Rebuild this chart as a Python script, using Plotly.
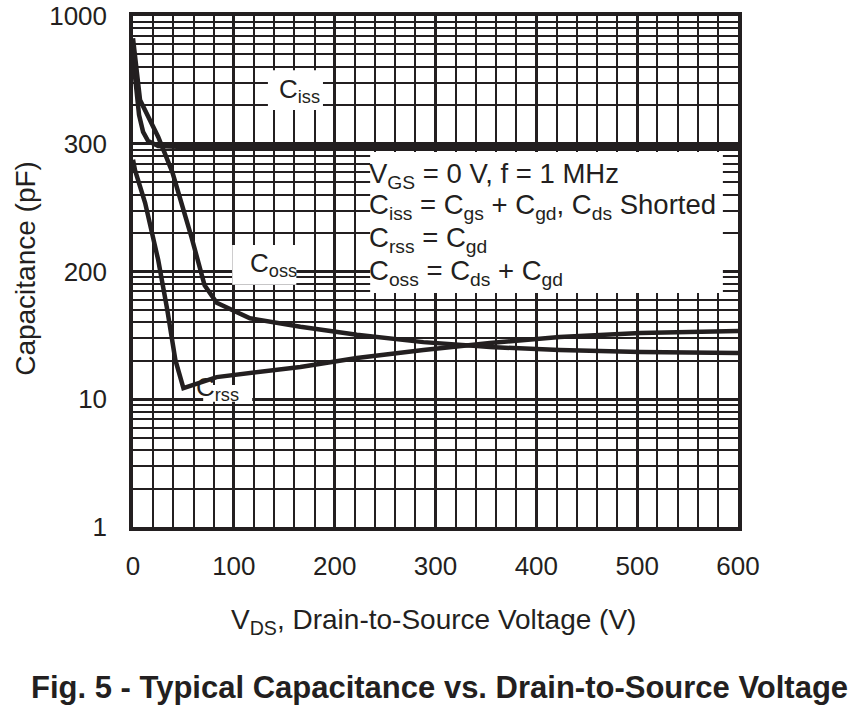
"""Typical capacitance vs. drain-to-source voltage (datasheet Fig. 5)."""

import plotly.graph_objects as go

# values (V in volts, C in pF)
ciss_v = [0, 3, 6, 10, 15, 25, 50, 100, 200, 300, 400, 500, 600]
ciss_c = [4800, 2640, 1680, 1240, 1050, 960, 945, 945, 945, 945, 945, 945, 945]

coss_v = [0, 7, 25, 39, 58, 71, 83, 116, 166, 222, 288, 354, 423, 503, 600]
coss_c = [6700, 2200, 1130, 600, 186, 78, 57, 43, 37, 32, 28, 25.6, 24.3, 23.4, 23.0]

crss_v = [0, 2, 12, 25, 34, 42, 50, 83, 166, 222, 288, 354, 423, 503, 600]
crss_c = [750, 620, 345, 123, 50, 20.3, 12.2, 14.9, 17.9, 21.0, 24.3, 27.6, 30.7, 33.0, 34.2]

y_tickvals = [1, 10, 100, 1000, 10000]
y_ticktext = ["1", "10", "200", "300", "1000"]
x_tickvals = [0, 100, 200, 300, 400, 500, 600]

conditions = [
    "V<sub>GS</sub> = 0 V, f = 1 MHz",
    "C<sub>iss</sub> = C<sub>gs</sub> + C<sub>gd</sub>, C<sub>ds</sub> Shorted",
    "C<sub>rss</sub> = C<sub>gd</sub>",
    "C<sub>oss</sub> = C<sub>ds</sub> + C<sub>gd</sub>",
]

INK = "#231f20"
FONT = "Liberation Sans, Arial, Helvetica, sans-serif"

fig = go.Figure()
for v, c in [(ciss_v, ciss_c), (coss_v, coss_c), (crss_v, crss_c)]:
    fig.add_trace(go.Scatter(x=v, y=c, mode="lines", line=dict(color=INK, width=4.5),
                             showlegend=False, hoverinfo="skip"))

minor_y = [m * 10 ** e for e in range(4) for m in range(2, 10)]

fig.update_xaxes(
    range=[0, 600], tickvals=x_tickvals, showgrid=True, gridcolor=INK, gridwidth=2.5,
    minor=dict(dtick=20, showgrid=True, gridcolor=INK, gridwidth=1.8),
    showline=True, linecolor=INK, linewidth=3.5, mirror=True, zeroline=False,
    ticks="outside", ticklen=13, tickcolor="rgba(0,0,0,0)", automargin=False,
    ticklabeloverflow="allow", tickfont=dict(family=FONT, size=26, color=INK),
)
fig.update_yaxes(
    type="log", range=[0, 4], tickvals=y_tickvals, ticktext=y_ticktext,
    showgrid=True, gridcolor=INK, gridwidth=3,
    minor=dict(tickvals=minor_y, showgrid=True, gridcolor=INK, gridwidth=1.8),
    showline=True, linecolor=INK, linewidth=3.5, mirror=True, zeroline=False,
    ticks="outside", ticklen=17, tickcolor="rgba(0,0,0,0)", automargin=False,
    ticklabeloverflow="allow", tickfont=dict(family=FONT, size=26, color=INK),
)

# white boxes that mask the grid behind the labels (paper coords)
boxes = [
    (0.392, 0.975, 0.458, 0.734),  # conditions block
    (0.223, 0.314, 0.816, 0.894),  # Ciss
    (0.164, 0.270, 0.474, 0.552),  # Coss
    (0.116, 0.197, 0.245, 0.278),  # Crss (kept under its curve)
]
for x0, x1, y0, y1 in boxes:
    fig.add_shape(type="rect", xref="paper", yref="paper", x0=x0, x1=x1, y0=y0, y1=y1,
                  fillcolor="white", line=dict(width=0), layer="above")

notes = [
    ("C<sub>iss</sub>", 0.276, 0.855),
    ("C<sub>oss</sub>", 0.233, 0.513),
    ("C<sub>rss</sub>", 0.140, 0.272),
]
for text, x, y in notes:
    fig.add_annotation(text=text, xref="paper", yref="paper", x=x, y=y, showarrow=False,
                       xanchor="center", yanchor="middle",
                       font=dict(family=FONT, size=26, color=INK))

cond_y = [0.688, 0.628, 0.563, 0.499]
for line, y in zip(conditions, cond_y):
    fig.add_annotation(text=line, xref="paper", yref="paper", x=0.386, y=y,
                       xanchor="left", yanchor="middle", showarrow=False,
                       font=dict(family=FONT, size=27.5, color=INK))

fig.add_annotation(text="Capacitance (pF)", xref="paper", yref="paper", x=-0.177, y=0.507,
                   xanchor="center", yanchor="middle", textangle=-90, showarrow=False,
                   font=dict(family=FONT, size=28, color=INK))
fig.add_annotation(text="V<sub>DS</sub>, Drain-to-Source Voltage (V)", xref="paper", yref="paper",
                   x=0.496, y=-0.184, xanchor="center", yanchor="middle", showarrow=False,
                   font=dict(family=FONT, size=28, color=INK))
fig.add_annotation(text="<b>Fig. 5 - Typical Capacitance vs. Drain-to-Source Voltage</b>",
                   xref="paper", yref="paper", x=0.506, y=-0.315,
                   xanchor="center", yanchor="middle", showarrow=False,
                   font=dict(family=FONT, size=31, color=INK))

fig.update_layout(
    width=859, height=716, margin=dict(l=133, r=121, t=16, b=189),
    paper_bgcolor="white", plot_bgcolor="white",
)

# drop the default body margin so the figure sits flush with the window
fig.write_html("out.html", config={"displayModeBar": False},
               post_script="document.body.style.margin = '0';")
